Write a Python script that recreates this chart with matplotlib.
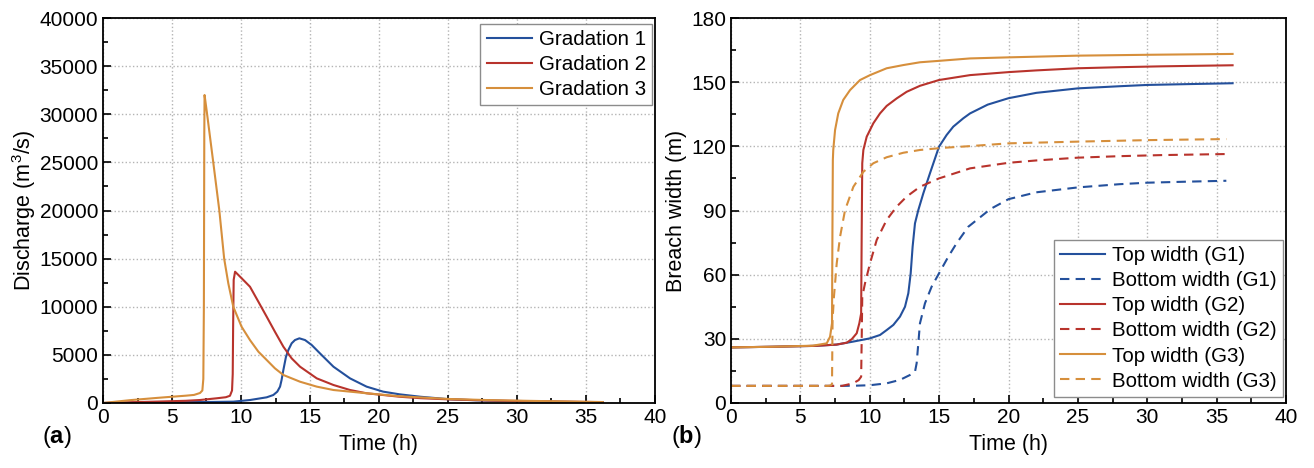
import matplotlib
matplotlib.use("Agg")
import matplotlib.pyplot as plt

plt.rcParams['font.family'] = ['Liberation Sans', 'DejaVu Sans']
plt.rcParams['mathtext.fontset'] = 'custom'
plt.rcParams['mathtext.rm'] = 'Liberation Sans'
plt.rcParams['mathtext.bf'] = 'Liberation Sans:bold'
plt.rcParams['mathtext.default'] = 'regular'

# colours of the three gradations
c_g1 = '#24509c'
c_g2 = '#b8332c'
c_g3 = '#d68f3c'

# (a) discharge hydrographs
t_q1 = [0, 2, 4, 6, 8, 9.44, 10.65, 11.86, 12.34, 12.63, 12.83, 12.94, 13.07, 13.26,
        13.43, 13.67, 13.91, 14.23, 14.64, 15.12, 15.72, 16.7, 17.9, 19.1, 20.3, 21.5,
        23, 25, 27, 30, 33, 36.2]
q_g1 = [0, 40, 70, 90, 110, 140, 310, 590, 830, 1180, 1700, 2390, 3430, 4810,
        5500, 6200, 6540, 6720, 6540, 6030, 5160, 3770, 2560, 1700, 1180, 900,
        650, 400, 280, 180, 120, 80]

t_q2 = [0, 2, 4, 6, 7.03, 8.24, 8.9, 9.2, 9.35, 9.40, 9.43, 9.47, 9.57, 9.81, 10.17,
        10.65, 11.26, 11.86, 12.46, 13.07, 13.67, 14.28, 15.49, 16.7, 17.9, 19.1, 21.5,
        23, 25, 28, 31, 34, 36.2]
q_g2 = [0, 80, 150, 230, 310, 490, 600, 750, 1300, 3000, 8000, 12800, 13640, 13300,
        12780, 12080, 10520, 8970, 7400, 5850, 4640, 3770, 2560, 1870, 1350, 1010, 650,
        500, 380, 260, 190, 130, 90]

t_q3 = [0, 1, 2, 3, 4, 5, 6, 6.6, 7.03, 7.2, 7.27, 7.31, 7.34, 7.36, 7.5, 7.99, 8.43,
        8.78, 9.08, 9.44, 10.04, 10.65, 11.26, 11.86, 12.46, 13.07, 14.28, 15.49, 16.7,
        19.1, 21.5, 25, 28, 31, 34, 36.2]
q_g3 = [0, 150, 300, 420, 540, 650, 760, 840, 1040, 1300, 2500, 10000, 28000, 32000,
        30500, 25000, 20000, 15000, 12430, 10000, 7930, 6540, 5330, 4470, 3600, 2910,
        2210, 1700, 1350, 1010, 700, 420, 300, 220, 150, 100]

# (b) breach widths
t_top1 = [0, 3, 6, 7.6, 8.8, 10.0, 10.74, 11.22, 11.7, 12.18, 12.54, 12.78, 12.95,
          13.09, 13.26, 13.5, 13.86, 14.34, 14.99, 15.54, 16.02, 16.74, 17.23, 18.5, 20,
          22, 25, 28, 30, 33, 36.15]
top_g1 = [26, 26.3, 26.7, 27.3, 28.7, 30.2, 31.8, 34.1, 36.5, 40.4, 45.0, 51.3, 60.6,
          73.1, 84.0, 90.2, 98.0, 107.4, 119.8, 125.3, 129.2, 133.1, 135.4, 139.5, 142.5,
          145, 147.1, 148.1, 148.7, 149.1, 149.5]
t_bot1 = [0, 4, 8, 9, 10, 11.22, 12.18, 12.9, 13.26, 13.38, 13.5, 13.62, 13.98, 14.46,
          14.99, 15.66, 16.26, 17.1, 18.7, 20, 22, 25, 28, 30, 33, 35.7]
bot_g1 = [8, 8, 8, 8.1, 8.3, 9.2, 10.8, 13.1, 14.6, 18.6, 27.9, 37.3, 46.6, 54.4, 60.6,
          68.4, 74.7, 82.4, 90.7, 95.3, 98.5, 100.8, 102.3, 103, 103.5, 103.9]

t_top2 = [0, 3, 6, 7.6, 8.34, 8.7, 9.06, 9.25, 9.38, 9.42, 9.46, 9.54, 9.78, 10.26,
          10.74, 11.22, 11.94, 12.66, 13.62, 14.99, 17.23, 20, 22, 25, 28, 31, 36.15]
top_g2 = [26, 26.3, 26.7, 27.3, 28.2, 29.8, 32.6, 37.3, 41.9, 80, 112.1, 118.3, 124.5,
          130.8, 135.4, 138.9, 142.4, 145.5, 148.3, 151, 153.3, 154.7, 155.5, 156.5,
          157, 157.4, 157.9]
t_bot2 = [0, 4, 8, 8.8, 9.2, 9.38, 9.42, 9.46, 9.66, 10.02, 10.5, 11.22, 11.94, 12.66,
          13.62, 14.99, 17.23, 20, 22, 25, 28, 31, 35.7]
bot_g2 = [8, 8, 8, 9.2, 10.7, 12.3, 30, 49.7, 56, 65.3, 76.2, 85.6, 91.8, 96.5, 101.1,
          105, 109.7, 112.3, 113.4, 114.7, 115.4, 115.9, 116.4]

t_top3 = [0, 3, 5.9, 6.9, 7.14, 7.28, 7.31, 7.34, 7.37, 7.5, 7.73, 8.09, 8.58, 9.3,
          10.02, 11.22, 12.42, 13.62, 15.06, 17.23, 20, 25, 30, 36.15]
top_g3 = [26, 26.3, 26.8, 27.9, 31, 37.3, 80, 113.6, 118.3, 127.6, 135.4, 141.7, 146.3,
          151, 153.3, 156.5, 158, 159.3, 160, 161.1, 161.6, 162.4, 162.8, 163.2]
t_bot3 = [0, 4, 7.0, 7.2, 7.28, 7.32, 7.42, 7.62, 7.86, 8.22, 8.82, 9.54, 10.26, 11.22,
          12.42, 13.62, 15.3, 17.23, 20, 25, 30, 35.7]
bot_g3 = [8, 8, 8, 8.2, 9, 38.8, 49.7, 65.3, 77.7, 90.2, 101.1, 108.1, 112.1, 114.9, 117,
          118.3, 119.3, 120.1, 121.4, 122.2, 122.9, 123.4]

fig = plt.figure(figsize=(13.14, 4.68), dpi=100)
ax1 = fig.add_axes([103 / 1314, 1 - 403 / 468, 552 / 1314, 385 / 468])
ax2 = fig.add_axes([731 / 1314, 1 - 403 / 468, 555 / 1314, 385 / 468])

lw = 1.5
dash = (0, (4.5, 3))

ax1.plot(t_q1, q_g1, color=c_g1, lw=lw, label='Gradation 1')
ax1.plot(t_q2, q_g2, color=c_g2, lw=lw, label='Gradation 2')
ax1.plot(t_q3, q_g3, color=c_g3, lw=lw, label='Gradation 3')

ax2.plot(t_top1, top_g1, color=c_g1, lw=lw, label='Top width (G1)')
ax2.plot(t_bot1, bot_g1, color=c_g1, lw=lw, ls=dash, label='Bottom width (G1)')
ax2.plot(t_top2, top_g2, color=c_g2, lw=lw, label='Top width (G2)')
ax2.plot(t_bot2, bot_g2, color=c_g2, lw=lw, ls=dash, label='Bottom width (G2)')
ax2.plot(t_top3, top_g3, color=c_g3, lw=lw, label='Top width (G3)')
ax2.plot(t_bot3, bot_g3, color=c_g3, lw=lw, ls=dash, label='Bottom width (G3)')

ax1.set_ylim(0, 40000)
ax1.set_yticks(range(0, 40001, 5000))
ax2.set_ylim(0, 180)
ax2.set_yticks(range(0, 181, 30))

for ax in (ax1, ax2):
    ax.set_xlim(0, 40)
    ax.set_xticks(range(0, 41, 5))
    ax.set_xticks([x + 2.5 for x in range(0, 40, 5)], minor=True)
    yt = ax.get_yticks()
    ax.set_yticks([(a + b) / 2 for a, b in zip(yt[:-1], yt[1:])], minor=True)
    ax.tick_params(which='both', direction='in', labelsize=15, width=1.2)
    ax.tick_params(which='major', length=6)
    ax.tick_params(which='minor', length=3.5)
    ax.grid(True, which='major', ls=':', color='#b4b4b4', lw=1.0)
    for s in ax.spines.values():
        s.set_linewidth(1.3)
    ax.set_xlabel('Time (h)', fontsize=15.5, labelpad=5)

ax1.set_ylabel('Discharge (m$^3$/s)', fontsize=15.5, labelpad=1)
ax2.set_ylabel('Breach width (m)', fontsize=15.5, labelpad=3)

leg_kw = dict(borderaxespad=0, fontsize=14.8, fancybox=False, edgecolor='#8c8c8c',
              framealpha=1, handlelength=2.2, labelspacing=0.3, borderpad=0.3,
              handletextpad=0.35)
leg1 = ax1.legend(loc='upper right', bbox_to_anchor=(0.995, 0.985), **leg_kw)
leg1.get_frame().set_linewidth(1.0)
leg2 = ax2.legend(loc='lower right', bbox_to_anchor=(0.995, 0.016), **leg_kw)
leg2.get_frame().set_linewidth(1.0)

fig.text(57 / 1314, 1 - 437 / 468, r'($\mathbf{a}$)', fontsize=17, ha='center', va='center')
fig.text(686 / 1314, 1 - 437 / 468, r'($\mathbf{b}$)', fontsize=17, ha='center', va='center')

fig.savefig('out.png', dpi=100)
